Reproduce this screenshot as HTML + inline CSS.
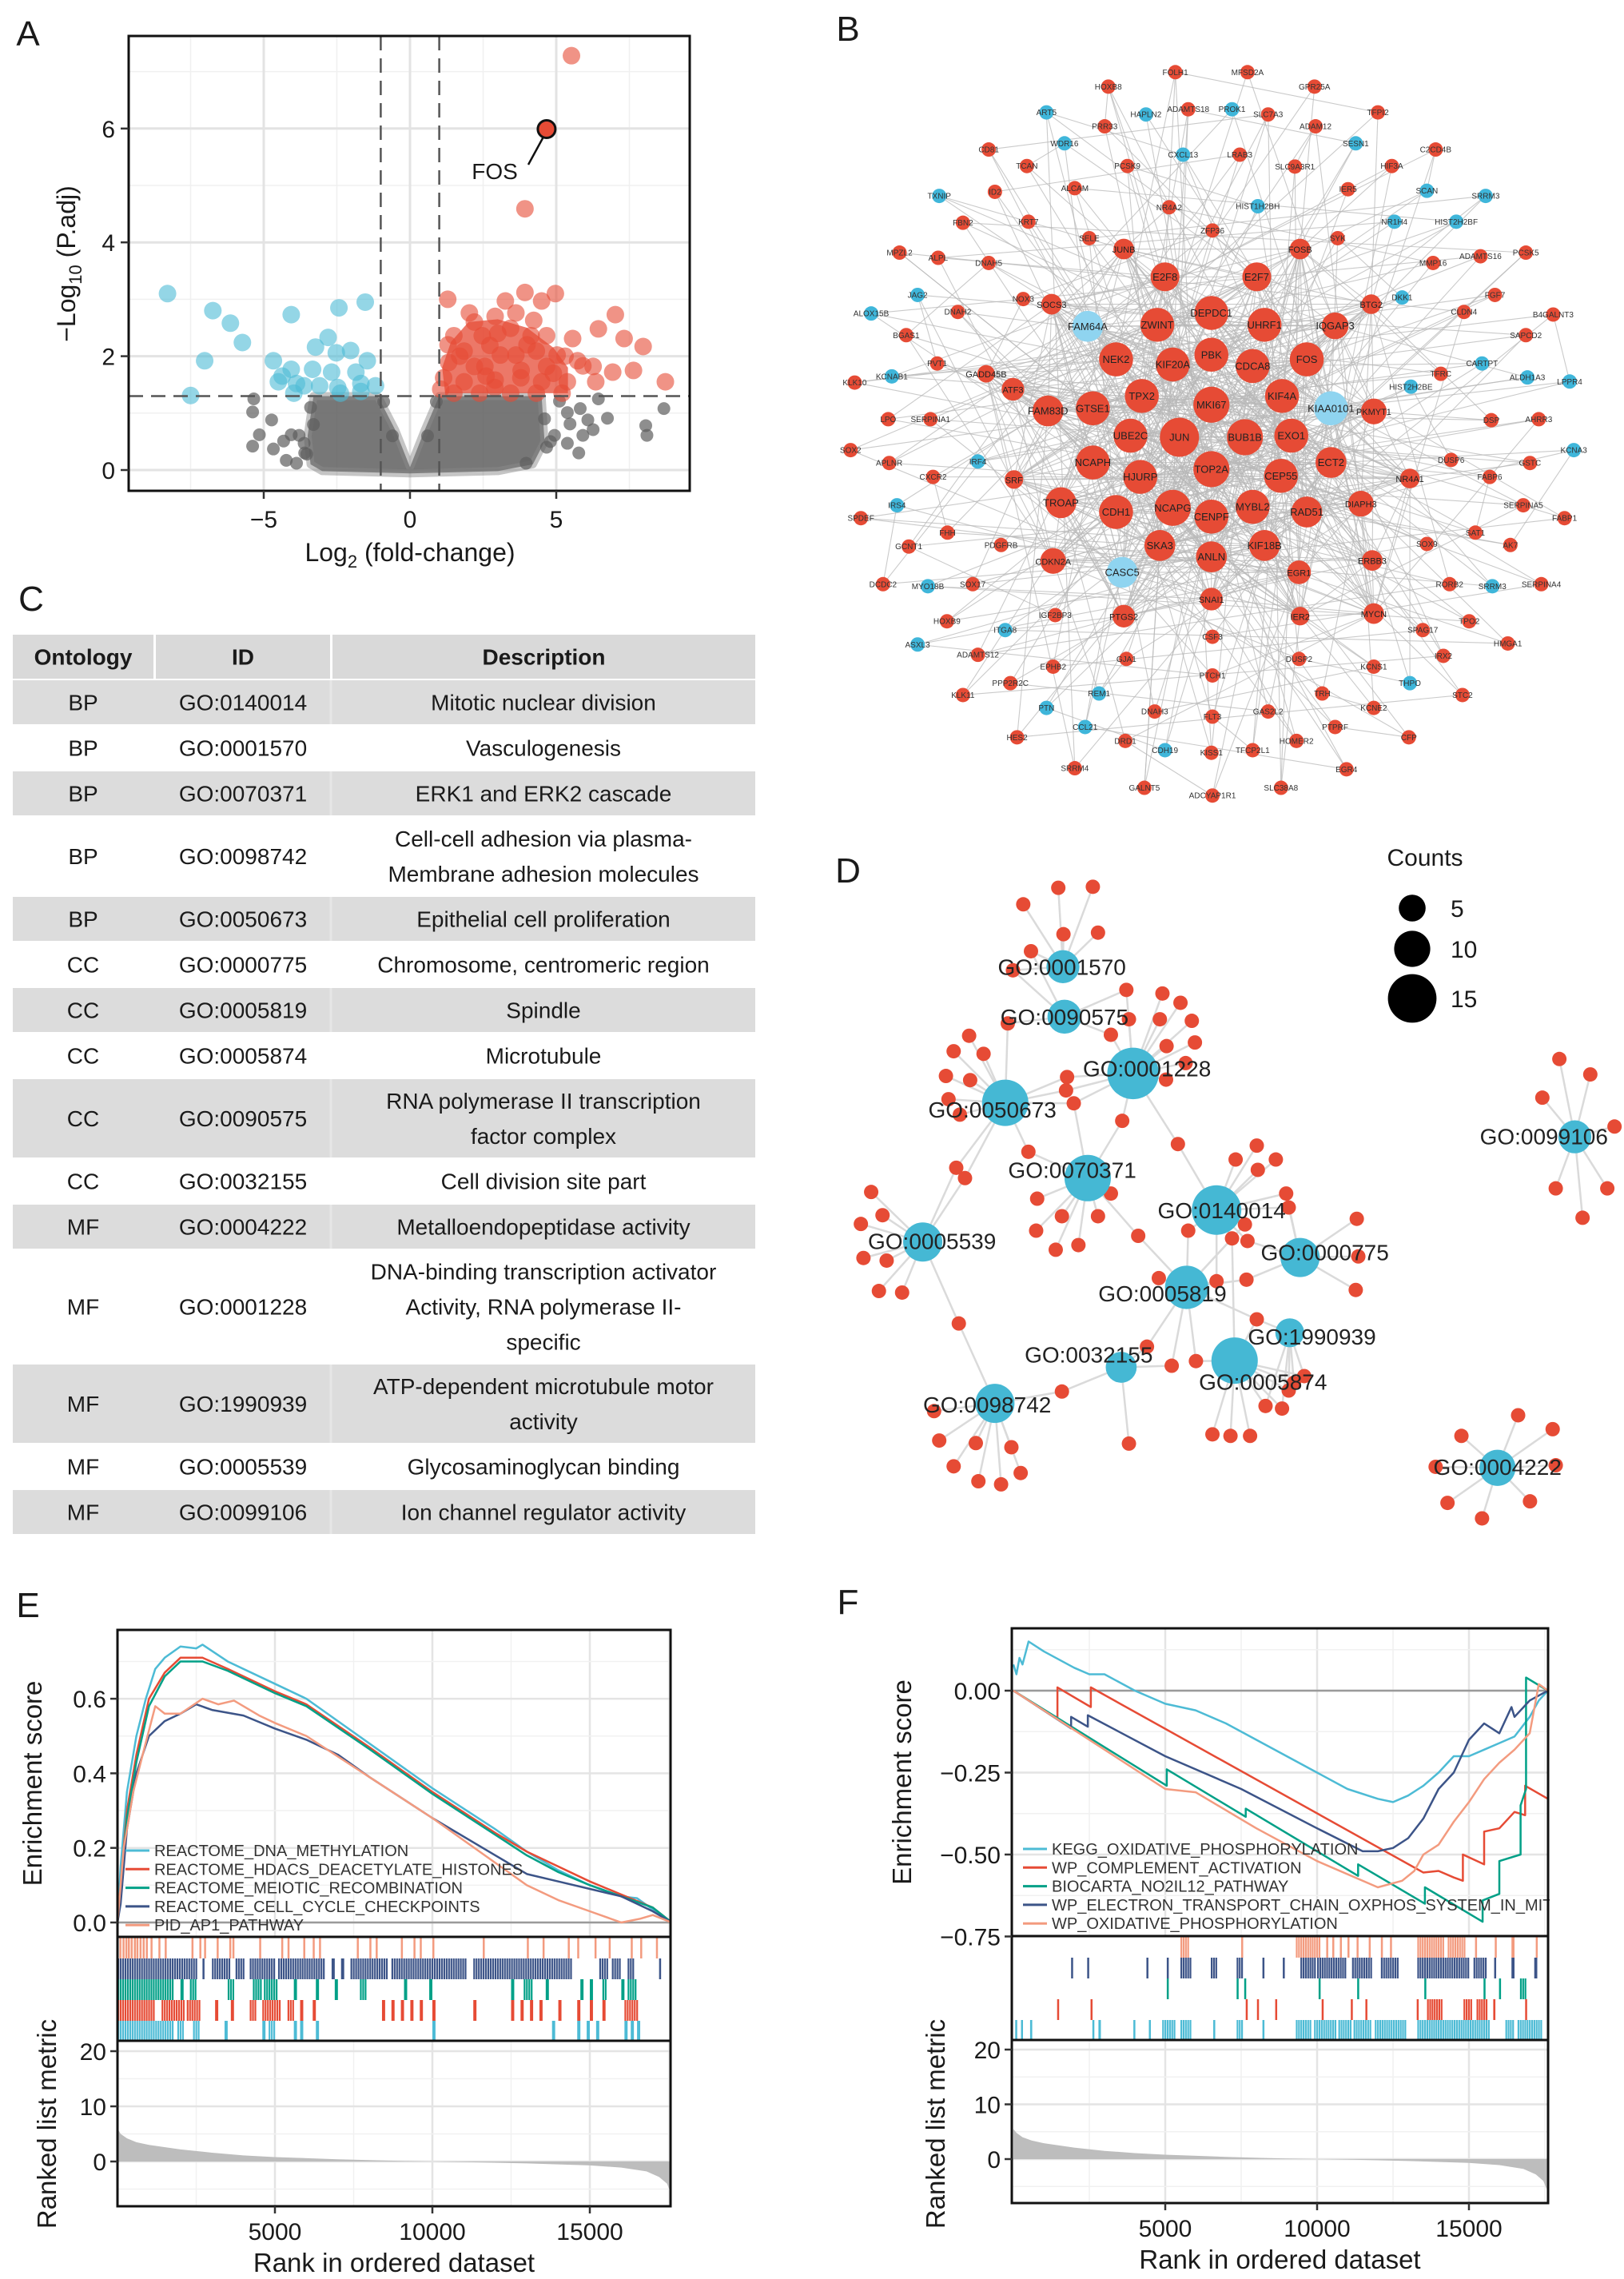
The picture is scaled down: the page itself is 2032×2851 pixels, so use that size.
<!DOCTYPE html>
<html><head><meta charset="utf-8"><style>
body{margin:0;background:#fff}
svg{display:block;font-family:"Liberation Sans",Arial,sans-serif}
</style></head><body>
<svg id="fig" xmlns="http://www.w3.org/2000/svg" width="2032" height="2851" viewBox="0 0 2032 2851">
<rect x="0" y="0" width="2032" height="2851" fill="#fff"/>
<defs>
<clipPath id="clipA"><rect x="161" y="45" width="702" height="569"/></clipPath>
<clipPath id="clipE"><rect x="147" y="2039" width="692" height="384"/></clipPath>
<clipPath id="clipF"><rect x="1266" y="2037" width="671" height="385"/></clipPath>
</defs>
</svg>
<script>
// ---------- Panel A data ----------
const aBlueX=[-8.29,-7.5,-7.02,-6.74,-6.14,-5.73,-4.67,-4.06,-3.23,-2.8,-2.43,-1.53,-2.03,-2.52,-1.46,-4.37,-4.06,-3.88,-3.33,-2.68,-3.97,-3.62,-3.09,-2.47,-1.85,-1.68,-1.18,-2.38,-1.68,-4.5];
const aBlueY=[3.1,1.31,1.92,2.8,2.58,2.24,1.92,2.73,2.16,2.33,2.85,2.95,2.1,2.06,1.92,1.65,1.77,1.52,1.77,1.72,1.35,1.48,1.48,1.45,1.72,1.52,1.48,1.35,1.38,1.55];
const aRedX=[5.52,3.93,1.29,4.97,7.02,6.44,7.32,7.97,8.73,7.64,6.93,6.35,5.91,5.56,3.93,4.5,3.26,2.03,2.91,3.62,4.23,4.67,1.5,2.47,3.44,2.73,1.85,1.32,2.56,3.62,4.32,5.03,5.73,1.15,1.85,2.91,3.79,4.5,5.38,1.5,2.38,3.44,4.32,5.2,2.2,4.67,1.05,3.09,4.14,6.26,2.2,1.7,3.0,4.0,5.3,2.6,3.8,1.3,2.9,4.9];
const aRedY=[7.28,4.59,3.0,3.1,2.73,2.48,2.31,2.17,1.55,1.75,1.72,1.55,1.83,2.31,3.12,2.97,2.97,2.76,2.7,2.76,2.63,2.36,2.36,2.36,2.49,2.19,2.09,1.89,1.82,2.02,2.09,2.02,1.92,1.62,1.55,1.58,1.62,1.55,1.55,1.35,1.35,1.35,1.35,1.35,1.82,1.82,1.42,2.02,2.36,1.82,2.6,2.0,2.4,2.2,2.0,1.65,1.75,2.2,1.45,1.7];
const aGrayX=[-5.34,-5.38,-4.73,-5.15,-5.38,-4.67,-4.32,-4.06,-3.79,-4.23,-3.88,-3.53,-3.62,5.11,5.38,5.82,6.08,6.44,6.75,6.26,5.91,5.47,5.38,5.77,8.06,8.1,8.68,3.97,4.67,4.94,-3.4,-3.3,-3.6,4.6,4.8,-0.9,0.9,-0.6,0.6];
const aGrayY=[1.25,1.02,0.88,0.62,0.42,0.37,0.51,0.62,0.61,0.17,0.12,0.28,0.47,1.21,1.01,1.08,0.88,1.25,0.91,0.71,0.61,0.81,0.47,0.3,0.78,0.61,1.08,0.12,0.4,0.61,1.1,0.8,0.3,0.9,0.5,1.2,1.2,0.6,0.6];
const aGrayCoreX=[-3.3,-1.1,-0.5,0,0.5,1.0,4.5,4.6,4.2,3,0,-3,-3.4,-3.5];
const aGrayCoreY=[1.3,1.3,0.7,0.05,0.7,1.3,1.3,0.5,0.1,-0.02,-0.06,-0.02,0.1,0.6];
const aRedCoreX=[1.2,1.1,1.4,2.0,3.0,4.0,4.9,5.4,5.4];
const aRedCoreY=[1.35,1.8,2.25,2.6,2.65,2.5,2.15,1.8,1.35];
const aXTicks=[-5,0,5];
const aYTicks=[0,2,4,6];
const fosPoint=[4.67,5.99];

// ---------- Panel C data ----------
const tOnt=["BP","BP","BP","BP","BP","CC","CC","CC","CC","CC","MF","MF","MF","MF","MF"];
const tId=["GO:0140014","GO:0001570","GO:0070371","GO:0098742","GO:0050673","GO:0000775","GO:0005819","GO:0005874","GO:0090575","GO:0032155","GO:0004222","GO:0001228","GO:1990939","GO:0005539","GO:0099106"];
const tDesc=[["Mitotic nuclear division"],["Vasculogenesis"],["ERK1 and ERK2 cascade"],["Cell-cell adhesion via plasma-","Membrane adhesion molecules"],["Epithelial cell proliferation"],["Chromosome, centromeric region"],["Spindle"],["Microtubule"],["RNA polymerase II transcription","factor complex"],["Cell division site part"],["Metalloendopeptidase activity"],["DNA-binding transcription activator","Activity, RNA polymerase II-","specific"],["ATP-dependent microtubule motor","activity"],["Glycosaminoglycan binding"],["Ion channel regulator activity"]];

// ---------- Panel B data (network) ----------
const bHub=[["E2F8",660,537,28,0],["E2F7",838,537,28,0],["DEPDC1",750,607,33,0],["ZWINT",645,630,33,0],["UHRF1",853,630,33,0],["IQGAP3",990,632,26,0],["FAM64A",510,633,30,1],["NEK2",565,697,33,0],["KIF20A",675,707,33,0],["PBK",750,688,33,0],["CDCA8",830,710,33,0],["FOS",935,697,33,0],["TPX2",615,768,33,0],["MKI67",750,785,35,0],["KIF4A",887,768,33,0],["GTSE1",520,792,33,0],["FAM83D",433,797,30,0],["ATF3",365,755,22,0],["KIAA0101",982,792,33,1],["PKMYT1",1065,798,25,0],["UBE2C",593,845,33,0],["JUN",688,848,38,0],["BUB1B",815,848,35,0],["EXO1",905,845,33,0],["NCAPH",520,897,33,0],["TOP2A",750,910,35,0],["ECT2",982,897,30,0],["HJURP",612,925,33,0],["CEP55",885,923,33,0],["TROAP",458,975,30,0],["CDH1",565,993,33,0],["NCAPG",675,985,35,0],["CENPF",750,1002,33,0],["MYBL2",830,983,33,0],["RAD51",935,993,30,0],["DIAPH3",1040,977,25,0],["SKA3",650,1058,30,0],["ANLN",750,1080,30,0],["KIF18B",853,1058,30,0],["CDKN2A",443,1088,25,0],["CASC5",577,1110,30,1],["EGR1",920,1110,23,0],["SNAI1",750,1162,22,0],["PTGS2",580,1195,22,0],["SOCS3",440,590,20,0],["BTG2",1060,590,19,0],["FOSB",922,483,20,0],["JUNB",580,483,20,0],["NR4A1",1135,928,19,0],["ERBB3",1062,1087,20,0],["MYCN",1065,1190,20,0],["IER2",922,1195,18,0],["SRF",367,930,18,0],["GADD45B",313,725,17,0]];
const bLeaf=[["FOLH1",680,140,0],["MFSD2A",820,140,0],["HOXB8",550,168,0],["GPR25A",950,168,0],["ART5",430,218,1],["HAPLN2",623,222,1],["ADAMTS18",705,212,0],["PROK1",790,212,1],["SLC7A3",860,222,0],["TFPI2",1073,218,0],["ADAM12",952,245,0],["PRR33",543,245,0],["WDR16",465,278,1],["CXCL13",695,300,1],["LRAB3",805,300,0],["SESN1",1030,278,1],["C2CD4B",1185,290,0],["CD81",318,290,0],["PCSK9",587,322,0],["SLC9A3R1",912,323,0],["HIF3A",1100,322,0],["TCAN",392,322,0],["TXNIP",222,380,1],["ID2",330,372,0],["ALCAM",485,365,0],["SCAN",1168,370,1],["SRRM3",1282,380,1],["HIST1H2BH",840,400,1],["NR4A2",668,402,0],["IER5",1015,367,0],["FBN2",268,432,0],["KRT7",395,430,0],["NR1H4",1105,430,1],["HIST2H2BF",1225,430,1],["ZFP36",752,447,0],["SELE",513,462,0],["SYK",995,462,0],["MMP16",1180,510,0],["ADAMTS16",1272,497,0],["PCSK5",1360,490,0],["MPZL2",145,490,0],["ALPL",220,500,0],["DNAH5",318,510,0],["NOX3",385,580,0],["JAG2",180,572,1],["DKK1",1120,577,1],["FGF7",1300,572,0],["ALOX15B",90,608,1],["DNAH2",258,605,0],["CLDN4",1240,605,0],["B4GALNT3",1413,610,0],["BGAS1",158,650,0],["SAPCD2",1360,650,0],["PVT1",218,705,0],["KCNAB1",130,730,1],["KLK10",58,742,0],["CARTPT",1275,705,1],["TFRC",1195,725,0],["ALDH1A3",1363,732,1],["LPPR4",1445,740,1],["HIST2H2BE",1137,750,1],["LPO",123,813,0],["SERPINA1",205,813,0],["DSP",1293,815,0],["AHRR3",1385,813,0],["SOX2",50,873,0],["APLNR",125,898,0],["IRF4",297,895,1],["CXCR2",210,925,0],["DUSP6",1215,892,0],["FABP6",1290,925,0],["GSTC",1368,898,0],["KCNA3",1453,873,1],["SPDEF",70,1005,0],["IRS4",140,980,1],["SERPINA5",1355,980,0],["FABP1",1435,1005,0],["FHH",238,1033,0],["PDGFRB",342,1057,0],["SAT1",1262,1033,0],["SOX9",1168,1055,0],["AK7",1330,1057,0],["GCNT1",163,1060,0],["DCDC2",113,1133,0],["MYO18B",200,1137,1],["SOX17",287,1133,0],["RORB2",1212,1133,0],["SRRM3",1295,1137,1],["SERPINA4",1390,1133,0],["HOXB9",237,1205,0],["ITGA8",350,1222,1],["IGF2BP3",447,1193,0],["SPAG17",1160,1222,0],["TPO2",1250,1205,0],["ASXL3",180,1250,1],["ADAMTS12",297,1270,0],["GJA1",585,1278,0],["CSF3",752,1235,0],["DUSP2",920,1278,0],["HMGA1",1325,1248,0],["IRX2",1200,1272,0],["EPHB2",443,1293,0],["KCNS1",1065,1293,0],["PTCH1",752,1310,0],["PPP2R2C",360,1325,0],["REM1",532,1345,1],["TRH",965,1345,0],["THPO",1135,1325,1],["STC2",1237,1348,0],["KLK11",268,1348,0],["PTN",430,1373,1],["DNAH3",640,1380,0],["FLT3",752,1390,0],["GAS2L2",860,1380,0],["PTPRF",990,1410,0],["KCNE2",1065,1373,0],["CCL21",505,1410,1],["HES2",373,1430,0],["DRD1",583,1437,0],["CDH19",660,1455,1],["KISS1",750,1460,0],["TFCP2L1",830,1455,0],["HOMER2",915,1437,0],["CFP",1133,1430,0],["SRRM4",485,1490,0],["EGR4",1012,1492,0],["GALNT5",620,1528,0],["ADCYAP1R1",752,1543,0],["SLC38A8",885,1528,0]];

// ---------- Panel D data ----------
const dGo=[["GO:0001570",462,278,32,460,278],["GO:0090575",465,375,33,465,375],["GO:0001228",598,485,50,625,475],["GO:0050673",350,542,45,325,555],["GO:0070371",510,688,45,480,672],["GO:0140014",760,750,48,770,750],["GO:0000775",922,842,38,970,832],["GO:0005539",190,812,38,208,810],["GO:0005819",702,900,42,655,912],["GO:1990939",902,988,28,945,995],["GO:0032155",575,1055,30,512,1030],["GO:0005874",795,1042,45,850,1083],["GO:0098742",330,1125,38,315,1127],["GO:0099106",1455,608,32,1395,607],["GO:0004222",1305,1250,35,1305,1248]];
const dGene=[[385,157,[0]],[453,125,[0]],[520,123,[0]],[463,215,[0]],[530,212,[0]],[400,248,[0,1]],[365,285,[0,1]],
[585,323,[1,2]],[355,388,[1,3]],[555,410,[1,2]],[590,380,[2]],
[655,330,[2]],[690,348,[2]],[650,380,[2]],[712,383,[2]],[663,432,[2]],[718,425,[2]],[700,465,[2]],[662,497,[2]],[470,492,[2,3]],[468,518,[2,3]],[483,543,[2,3,4]],[577,577,[2,4]],[685,622,[2,5]],
[280,412,[3]],[250,442,[3]],[308,447,[3]],[235,490,[3]],[282,498,[3]],[240,535,[3]],[262,565,[3]],[395,637,[3,4]],[255,668,[3,7]],[272,688,[3,7]],
[412,728,[4]],[460,762,[4]],[530,762,[4]],[410,790,[4]],[448,827,[4]],[492,818,[4]],[555,718,[4]],[608,800,[4,8]],
[90,715,[7]],[112,760,[7]],[70,777,[7]],[75,843,[7]],[120,848,[7]],[105,907,[7]],[150,910,[7]],[260,970,[7,12]],
[797,652,[5]],[838,625,[5]],[875,652,[5]],[840,672,[5]],[895,718,[5,6]],[900,745,[5,6]],[815,778,[5,8]],[790,805,[5,8,11]],[820,810,[5,6]],[705,790,[5,8]],
[1032,767,[6]],[1030,905,[6]],[1035,840,[6]],
[648,882,[8]],[760,888,[8,5]],[818,885,[8,6]],[838,962,[8,9,11]],[720,1043,[8,11]],[673,1052,[8,10]],
[930,1072,[9,11]],[900,1100,[9,11]],
[752,1185,[11]],[787,1188,[11]],[825,1188,[11]],[855,1130,[11,9]],[887,1135,[11,9]],[910,1085,[11,9]],
[590,1203,[10]],[460,1102,[10,12]],[625,1015,[10,8]],
[212,1140,[12]],[222,1197,[12]],[293,1202,[12]],[362,1210,[12]],[250,1247,[12]],[380,1260,[12]],[298,1276,[12]],[342,1282,[12]],
[1425,457,[13]],[1485,487,[13]],[1392,532,[13]],[1532,588,[13]],[1418,708,[13]],[1518,708,[13]],[1470,765,[13]],
[1345,1148,[14]],[1235,1188,[14]],[1412,1175,[14]],[1185,1248,[14]],[1418,1245,[14]],[1208,1318,[14]],[1368,1315,[14]],[1275,1348,[14]]];
const dCountLabels=["5","10","15"];
const dCountValues=[5,10,15];

// ---------- Panel E data ----------
const eNames=["REACTOME_DNA_METHYLATION","REACTOME_HDACS_DEACETYLATE_HISTONES","REACTOME_MEIOTIC_RECOMBINATION","REACTOME_CELL_CYCLE_CHECKPOINTS","PID_AP1_PATHWAY"];
const eDnaX=[0,100,300,600,900,1200,1500,2000,2500,2700,3500,5000,6000,8000,10000,12000,13000,14000,15000,16000,16500,17000,17600];
const eDnaY=[0,0.15,0.35,0.5,0.6,0.68,0.71,0.74,0.735,0.745,0.7,0.64,0.6,0.48,0.36,0.25,0.19,0.14,0.1,0.07,0.065,0.035,0];
const eHdacX=[0,300,600,1000,1500,2000,2700,3500,5000,6000,8000,10000,12000,13000,14000,15000,16000,17000,17600];
const eHdacY=[0,0.3,0.45,0.6,0.67,0.71,0.71,0.68,0.62,0.585,0.47,0.35,0.24,0.19,0.15,0.11,0.075,0.04,0];
const eMeiX=[0,300,600,1000,1500,2000,2700,3500,5000,6000,8000,10000,12000,13000,14000,15000,16000,17000,17600];
const eMeiY=[0,0.28,0.43,0.58,0.66,0.7,0.7,0.675,0.615,0.58,0.465,0.345,0.235,0.18,0.135,0.1,0.07,0.04,0];
const eCcX=[0,100,300,600,1000,1500,2000,2500,3000,4000,5000,6000,7000,8000,10000,12000,13000,14000,15000,16000,17000,17600];
const eCcY=[0,0.05,0.25,0.4,0.5,0.54,0.56,0.585,0.57,0.555,0.52,0.49,0.45,0.39,0.28,0.18,0.13,0.11,0.09,0.07,0.03,0];
const eApX=[0,200,500,800,1200,1500,2000,2700,3200,3700,4500,5000,6000,8000,10000,12000,13000,14000,15000,16000,16600,17000,17600];
const eApY=[0,0.2,0.35,0.45,0.58,0.56,0.56,0.6,0.585,0.595,0.555,0.535,0.5,0.39,0.28,0.16,0.1,0.06,0.03,0,0.01,0.02,0];
const eHitAp=[[60,120],[160,200],[250,290],[330,370],[420,460],[520,560],[600,640],[700,740],[800,840],[900,940],[1050,1090],[1300,1340],[1500,1540],[2350,2390],[2600,2640],[2750,2790],[3150,3190],[3550,3590],[3650,3690],[4500,4540],[5200,5240],[5400,5440],[5900,5940],[6200,6240],[6400,6440],[7600,7640],[8000,8040],[8200,8240],[9000,9040],[9400,9440],[9600,9640],[10000,10040],[11600,11640],[13000,13040],[13500,13540],[14300,14340],[14600,14640],[15150,15190],[15600,15640],[16300,16340],[16600,16640],[17100,17140]];
const eHitCc=[[0,2500],[2700,2760],[3000,3550],[3750,4050],[4200,5000],[5100,6550],[6800,6900],[7100,7200],[7400,8600],[8700,11100],[11300,14400],[15300,15550],[15700,16000],[16200,16400],[17200,17260]];
const eHitMei=[[0,1800],[2000,2100],[2300,2500],[3500,3700],[4300,4600],[4650,5100],[5600,5700],[6300,6400],[6900,7000],[7700,7900],[9100,9200],[9900,10000],[12500,12600],[12900,13200],[13600,13700],[14700,14800],[15000,15100],[15400,15550],[16000,16100],[16200,16500]];
const eHitHdac=[[0,1200],[1400,2100],[2200,2600],[3100,3200],[3600,3700],[4200,4400],[4600,5200],[5400,5600],[5800,5900],[6200,6300],[8400,8500],[8700,8800],[9000,9100],[9300,9400],[9600,9700],[10000,10100],[11300,11400],[12500,12600],[12800,12900],[13100,13200],[13400,13500],[14000,14100],[14600,14700],[15000,15100],[15400,15500],[16100,16500]];
const eHitDna=[[0,1800],[1900,2100],[2400,2600],[3400,3500],[4600,4700],[4800,5000],[5600,5700],[5800,5900],[6300,6400],[10000,10100],[13800,13900],[14600,14700],[14900,15000],[15200,15300],[16100,16200],[16300,16400],[16500,16600]];
const rankPts=[0,100,300,600,1000,2000,3000,4000,5000,7000,9000,11000,13000,15000,16000,16800,17200,17450,17560];
const eMetric=[6,5,4.2,3.5,3,2.2,1.6,1.1,0.8,0.4,0.1,-0.1,-0.35,-0.7,-1.1,-1.8,-2.8,-4,-5.5];
const fMetric=[5.5,4.8,4,3.4,2.9,2.1,1.5,1.1,0.8,0.4,0.1,-0.1,-0.35,-0.7,-1.1,-1.8,-2.8,-4,-5.5];
const xRankTicks=[5000,10000,15000];
const eYTicks=[0,0.2,0.4,0.6];
const metricTicks=[0,10,20];

// ---------- Panel F data ----------
const fNames=["KEGG_OXIDATIVE_PHOSPHORYLATION","WP_COMPLEMENT_ACTIVATION","BIOCARTA_NO2IL12_PATHWAY","WP_ELECTRON_TRANSPORT_CHAIN_OXPHOS_SYSTEM_IN_MITOCHONDRIA","WP_OXIDATIVE_PHOSPHORYLATION"];
const fKeggX=[0,100,200,300,500,1000,2000,2500,3000,4000,5000,6000,7000,8000,9000,10000,11000,12000,12500,13000,13500,14000,14500,15000,15500,16000,16500,17000,17300,17600];
const fKeggY=[0.08,0.05,0.1,0.08,0.15,0.12,0.07,0.05,0.05,0,-0.04,-0.06,-0.1,-0.15,-0.2,-0.25,-0.3,-0.33,-0.34,-0.32,-0.29,-0.25,-0.2,-0.2,-0.18,-0.16,-0.14,-0.08,-0.03,0];
const fCompX=[0,1450,1450,2550,2550,13500,14000,14500,14800,14800,15500,15500,16000,16500,16850,16850,17600];
const fCompY=[0,-0.085,0.01,-0.05,0.01,-0.555,-0.55,-0.57,-0.58,-0.5,-0.53,-0.43,-0.42,-0.37,-0.38,-0.29,-0.33];
const fBioX=[0,5050,5050,7650,7650,11350,11350,13550,13550,15450,15450,16000,16000,16700,16700,16880,16880,17600];
const fBioY=[0,-0.29,-0.24,-0.385,-0.36,-0.565,-0.53,-0.65,-0.6,-0.705,-0.64,-0.62,-0.52,-0.5,-0.35,-0.3,0.04,0];
const fEtcX=[0,1900,1900,2450,2450,5000,7500,10000,11500,12000,12500,13000,13500,14000,14500,15000,15500,16000,16400,16500,17000,17600];
const fEtcY=[0,-0.115,-0.08,-0.11,-0.075,-0.2,-0.3,-0.42,-0.49,-0.49,-0.48,-0.45,-0.39,-0.3,-0.25,-0.15,-0.1,-0.13,-0.05,-0.08,-0.03,0];
const fOxX=[0,5000,6000,8000,10000,12000,12800,13200,13500,14000,14500,15000,15500,16000,16500,17000,17300,17600];
const fOxY=[0,-0.3,-0.31,-0.42,-0.52,-0.6,-0.58,-0.55,-0.5,-0.47,-0.4,-0.34,-0.27,-0.22,-0.18,-0.13,0.02,0];
const fHitOx=[[5500,5800],[7500,7560],[9300,10100],[10300,10350],[10500,10550],[10750,10800],[11000,11050],[11300,11350],[11700,11750],[12100,12150],[12400,12450],[13300,14200],[14300,14850],[15200,15250],[15850,15900],[16400,16500],[17200,17260]];
const fHitEtc=[[1900,1960],[2430,2480],[4380,4430],[5050,5100],[5500,5850],[6500,6700],[7350,7550],[8200,8250],[8870,8920],[9450,9920],[10000,10930],[11150,11800],[12100,12650],[13300,15000],[15150,15600],[15830,15880],[16400,16500],[17150,17250]];
const fHitBio=[[5050,5100],[7350,7400],[7600,7660],[10050,10110],[11320,11380],[13530,13590],[15480,15540],[15990,16050],[16680,16880]];
const fHitComp=[[1440,1490],[2540,2590],[7650,7700],[8020,8070],[8620,8670],[10150,10200],[11110,11160],[11590,11640],[13280,13330],[13620,14080],[14820,15100],[15250,15600],[15800,15870],[16850,16900]];
const fHitKegg=[[60,120],[250,300],[550,620],[2600,2650],[2800,2880],[3950,4000],[4460,4510],[4900,5350],[5500,5850],[6580,6640],[7350,7550],[8200,8250],[9300,9800],[9900,10600],[10700,11100],[11200,11800],[11900,12900],[13300,15700],[16200,16500],[16600,17400]];
const fYTicks=[0,-0.25,-0.5,-0.75];
const fYTickLabels=["0.00","\u22120.25","\u22120.50","\u22120.75"];

// ---------- helpers ----------
const NS="http://www.w3.org/2000/svg";
const svg=document.getElementById('fig');
function mk(tag,attrs,parent){const e=document.createElementNS(NS,tag);for(const k in attrs)e.setAttribute(k,attrs[k]);(parent||svg).appendChild(e);return e;}
function grp(name){const g=mk('g',{});return g;}
function txt(s,x,y,size,parent,opts){const t=mk('text',Object.assign({x:x,y:y,'font-size':size,fill:'#1a1a1a'},opts||{}),parent);t.textContent=s;return t;}
const NPG={red:"#E64B35",cyan:"#4DBBD5",green:"#00A087",navy:"#3C5488",salmon:"#F39B7F"};

// ---------- panel letters ----------
const letters=[["A",35,41],["B",1061,35],["C",39,748],["D",1061,1088],["E",35,2007],["F",1061,2003]];
for(const L of letters){
 const t=txt(L[0],L[1],L[2]+16,44,svg,{'text-anchor':'middle'});
 
 
}

// ---------- Panel A ----------
(function(){
 const g=grp('volcano-plot');
 const xA=v=>513+36.6*v, yA=v=>588-71.2*v;
 for(const v of [-7.5,-2.5,2.5,7.5]) mk('line',{x1:xA(v),x2:xA(v),y1:45,y2:614,stroke:'#f0f0f0','stroke-width':1.5},g);
 for(const v of [1,3,5,7]) mk('line',{x1:161,x2:863,y1:yA(v),y2:yA(v),stroke:'#f0f0f0','stroke-width':1.5},g);
 for(const v of aXTicks) mk('line',{x1:xA(v),x2:xA(v),y1:45,y2:614,stroke:'#e3e3e3','stroke-width':3},g);
 for(const v of aYTicks) mk('line',{x1:161,x2:863,y1:yA(v),y2:yA(v),stroke:'#e3e3e3','stroke-width':3},g);
 const pg=mk('g',{'clip-path':'url(#clipA)'},g);
 const core=mk('polygon',{points:aGrayCoreX.map((x,i)=>xA(x)+','+yA(aGrayCoreY[i])).join(' '),fill:'#606060',opacity:0.85,stroke:'#777','stroke-width':10,'stroke-linejoin':'round','stroke-opacity':0.5},pg);
 
 
 aGrayX.forEach((x,i)=>{const c=mk('circle',{cx:xA(x),cy:yA(aGrayY[i]),r:8,fill:'#5e5e5e','fill-opacity':0.7},pg);
  
  });
 const rc=mk('polygon',{points:aRedCoreX.map((x,i)=>xA(x)+','+yA(aRedCoreY[i])).join(' '),fill:NPG.red,opacity:0.75},pg);
 
 
 aRedX.forEach((x,i)=>{const c=mk('circle',{cx:xA(x),cy:yA(aRedY[i]),r:11,fill:NPG.red,'fill-opacity':0.6},pg);
  
  });
 aBlueX.forEach((x,i)=>{const c=mk('circle',{cx:xA(x),cy:yA(aBlueY[i]),r:11,fill:NPG.cyan,'fill-opacity':0.6},pg);
  
  });
 for(const v of [-1,1]){const l=mk('line',{x1:xA(v),x2:xA(v),y1:45,y2:614,stroke:'#555','stroke-width':2.5,'stroke-dasharray':'18 10'},g);
  
  }
 const hl=mk('line',{x1:161,x2:863,y1:yA(1.3),y2:yA(1.3),stroke:'#555','stroke-width':2.5,'stroke-dasharray':'18 10'},g);
 
 
 mk('line',{x1:661,y1:206,x2:xA(fosPoint[0])-3,y2:yA(fosPoint[1])+8,stroke:'#111','stroke-width':2.5},g);
 const fos=mk('circle',{cx:xA(fosPoint[0]),cy:yA(fosPoint[1]),r:11,fill:NPG.red,stroke:'#111','stroke-width':3},g);
 
 
 const fl=txt('FOS',619,224,28,g,{'text-anchor':'middle'});
 
 
 const box=mk('rect',{x:161,y:45,width:702,height:569,fill:'none',stroke:'#111','stroke-width':3},g);
 
 
 for(const v of aXTicks){mk('line',{x1:xA(v),x2:xA(v),y1:614,y2:624,stroke:'#333','stroke-width':2.5},g);
  const t=txt(v<0?'\u2212'+Math.abs(v):String(v),xA(v),660,30,g,{'text-anchor':'middle'});
  
  }
 for(const v of aYTicks){mk('line',{x1:151,x2:161,y1:yA(v),y2:yA(v),stroke:'#333','stroke-width':2.5},g);
  const t=txt(String(v),144,yA(v)+11,30,g,{'text-anchor':'end'});
  
  }
 const xt=mk('text',{x:513,y:702,'font-size':32,'text-anchor':'middle',fill:'#1a1a1a'},g);
 xt.innerHTML='Log<tspan font-size="22" dy="8">2</tspan><tspan dy="-8"> (fold-change)</tspan>';
 
 
 const yt=mk('text',{x:0,y:0,'font-size':32,'text-anchor':'middle',fill:'#1a1a1a',transform:'translate(94,330) rotate(-90)'},g);
 yt.innerHTML='\u2212Log<tspan font-size="22" dy="8">10</tspan><tspan dy="-8"> (P.adj)</tspan>';
 
 
})();

// ---------- Panel C table ----------
(function(){
 const g=grp('go-table');
 const cols=[[16,192],[195,413],[416,945]];
 const hTop=794,hH=55;
 const head=["Ontology","ID","Description"];
 cols.forEach((c,i)=>{mk('rect',{x:c[0],y:hTop,width:c[1]-c[0],height:hH,fill:'#d9d9d9'},g);
  const t=txt(head[i],(c[0]+c[1])/2,hTop+hH/2+10,28,g,{'text-anchor':'middle','font-weight':'bold'});
  
  });
 let y=hTop+hH+2;
 tOnt.forEach((o,i)=>{
  const n=tDesc[i].length, h=n===1?57:(n===2?100:143);
  if(i%2===0){const r=mk('rect',{x:16,y:y,width:929,height:h-2,fill:'#dcdcdc'},g);
   mk('line',{x1:414,x2:414,y1:y,y2:y+h-2,stroke:'#e6e6e6','stroke-width':3},g);
   
   }
  const cy=y+(h-2)/2+10;
  const a=txt(o,104,cy,28,g,{'text-anchor':'middle'});
  
  
  const b=txt(tId[i],304,cy,28,g,{'text-anchor':'middle'});
  
  
  tDesc[i].forEach((line,k)=>{const t=txt(line,680,cy+(k-(n-1)/2)*44,28,g,{'text-anchor':'middle'});
   
   });
  y+=h;
 });
})();

// ---------- Panel B network ----------
(function(){
 const g=grp('ppi-network');
 const bx=z=>1032+0.645*z, by=z=>0.645*z;
 const eg=mk('g',{stroke:'#b8b8b8','stroke-width':1.1,'stroke-opacity':0.75},g);
 const nH=bHub.length,nL=bLeaf.length;
 for(let i=0;i<nH;i++)for(let j=i+1;j<nH;j++){ if((i*7+j*3)%4===0||(j-i)<3){mk('line',{x1:bx(bHub[i][1]),y1:by(bHub[i][2]),x2:bx(bHub[j][1]),y2:by(bHub[j][2])},eg);}}
 for(let k=0;k<nL;k++){
  const a=bHub[(k*5)%nH],b=bHub[(k*13+7)%nH];
  mk('line',{x1:bx(bLeaf[k][1]),y1:by(bLeaf[k][2]),x2:bx(a[1]),y2:by(a[2])},eg);
  mk('line',{x1:bx(bLeaf[k][1]),y1:by(bLeaf[k][2]),x2:bx(b[1]),y2:by(b[2])},eg);
  if(k%2===0){const c=bLeaf[(k+9)%nL];mk('line',{x1:bx(bLeaf[k][1]),y1:by(bLeaf[k][2]),x2:bx(c[1]),y2:by(c[2])},eg);}
 }
 
 
 for(const n of bLeaf){
  const c=mk('circle',{cx:bx(n[1]),cy:by(n[2]),r:9,fill:n[3]?'#3fb6da':NPG.red},g);
  
  
  const t=txt(n[0],bx(n[1]),by(n[2])+3.5,10,g,{'text-anchor':'middle',fill:'#333'});
  
  
 }
 for(const n of bHub){
  const c=mk('circle',{cx:bx(n[1]),cy:by(n[2]),r:n[3]*0.645,fill:n[4]?'#8fd4f0':NPG.red},g);
  
  
  const t=txt(n[0],bx(n[1]),by(n[2])+4.5,n[3]>25?13:11,g,{'text-anchor':'middle',fill:'#222'});
  
  
 }
})();

// ---------- Panel D ----------
(function(){
 const g=grp('go-network');
 const dx=z=>1032+0.645*z, dy=z=>1030+0.645*z;
 const eg=mk('g',{stroke:'#dadada','stroke-width':2.5},g);
 
 
 for(const n of dGene) for(const p of n[2]) mk('line',{x1:dx(n[0]),y1:dy(n[1]),x2:dx(dGo[p][1]),y2:dy(dGo[p][2])},eg);
 for(const n of dGene){const c=mk('circle',{cx:dx(n[0]),cy:dy(n[1]),r:9,fill:NPG.red},g);
  
  }
 for(const n of dGo){const c=mk('circle',{cx:dx(n[1]),cy:dy(n[2]),r:n[3]*0.645,fill:'#45b8d4'},g);
  
  }
 for(const n of dGo){const t=txt(n[0],dx(n[4]),dy(n[5])+10,28,g,{'text-anchor':'middle',fill:'#222'});
  
  }
 const lt=txt('Counts',1783,1083,30,g,{'text-anchor':'middle'});
 
 
 const ly=[1136,1187,1249];
 dCountValues.forEach((v,i)=>{const c=mk('circle',{cx:1767,cy:ly[i],r:7+2.4*v*0.65+ (i===0?2:0),fill:'#000'},g);
  
  
  const t=txt(dCountLabels[i],1815,ly[i]+11,30,g,{});
  
  });
})();

// ---------- GSEA panels ----------
function gsea(cfg){
 const g=grp(cfg.name);
 const X=r=>cfg.x0+r*cfg.kx, Y=v=>cfg.y0-v*cfg.ky, M=v=>cfg.m0-v*cfg.km;
 const L=cfg.left,R=cfg.right;
 for(let r=2500;r<17600;r+=2500){const maj=r%5000===0;
  mk('line',{x1:X(r),x2:X(r),y1:cfg.top,y2:cfg.mid,stroke:maj?'#e4e4e4':'#f1f1f1','stroke-width':maj?2.5:1.5},g);
  mk('line',{x1:X(r),x2:X(r),y1:cfg.hitBot,y2:cfg.bot,stroke:maj?'#e4e4e4':'#f1f1f1','stroke-width':maj?2.5:1.5},g);}
 cfg.yMinor.forEach(v=>mk('line',{x1:L,x2:R,y1:Y(v),y2:Y(v),stroke:'#f1f1f1','stroke-width':1.5},g));
 cfg.yTicks.forEach(v=>mk('line',{x1:L,x2:R,y1:Y(v),y2:Y(v),stroke:'#e4e4e4','stroke-width':2.5},g));
 [-5,5,15].forEach(v=>mk('line',{x1:L,x2:R,y1:M(v),y2:M(v),stroke:'#f1f1f1','stroke-width':1.5},g));
 metricTicks.forEach(v=>mk('line',{x1:L,x2:R,y1:M(v),y2:M(v),stroke:'#e4e4e4','stroke-width':2.5},g));
 mk('line',{x1:L,x2:R,y1:Y(0),y2:Y(0),stroke:'#9a9a9a','stroke-width':2.5},g);
 const cg=mk('g',{'clip-path':'url(#'+cfg.clip+')'},g);
 cfg.series.forEach(s=>{const p=mk('polyline',{points:s.x.map((r,i)=>X(r)+','+Y(s.y[i])).join(' '),fill:'none',stroke:s.color,'stroke-width':2.5,'stroke-linejoin':'round'},cg);
  
  });
 cfg.series.forEach((s,i)=>{const ly=cfg.legY+i*23.3;
  mk('line',{x1:cfg.legX-36,x2:cfg.legX-6,y1:ly-7,y2:ly-7,stroke:s.color,'stroke-width':3},g);
  const t=txt(s.name,cfg.legX,ly,20,g,{fill:'#333'});
  
  });
 const rh=(cfg.hitBot-cfg.mid)/5;
 cfg.series.slice().reverse().forEach((s,i)=>{const hg=mk('g',{fill:s.color},g);
  
  
  s.hits.forEach(h=>{
   if(h[1]-h[0]<=120){mk('rect',{x:X(h[0]),y:cfg.mid+i*rh+1,width:Math.max(2.5,X(h[1])-X(h[0])),height:rh},hg);}
   else{for(let r=h[0];r<h[1];r+=75) mk('rect',{x:X(r),y:cfg.mid+i*rh+1,width:2.2,height:rh},hg);}
  });});
 const pts=[X(0)+','+M(0)].concat(rankPts.map((r,i)=>X(r)+','+M(cfg.metric[i]))).concat([X(rankPts[rankPts.length-1])+','+M(0)]);
 const area=mk('polygon',{points:pts.join(' '),fill:'#bdbdbd'},g);
 
 
 [[cfg.top,cfg.mid],[cfg.mid,cfg.hitBot],[cfg.hitBot,cfg.bot]].forEach((b,i)=>{const r=mk('rect',{x:L,y:b[0],width:R-L,height:b[1]-b[0],fill:'none',stroke:'#111','stroke-width':3},g);
  
  });
 cfg.yTicks.forEach((v,i)=>{mk('line',{x1:L-9,x2:L,y1:Y(v),y2:Y(v),stroke:'#333','stroke-width':2.5},g);
  const t=txt(cfg.yLabels[i],L-14,Y(v)+11,30,g,{'text-anchor':'end'});
  
  });
 metricTicks.forEach(v=>{mk('line',{x1:L-9,x2:L,y1:M(v),y2:M(v),stroke:'#333','stroke-width':2.5},g);
  const t=txt(String(v),L-14,M(v)+11,30,g,{'text-anchor':'end'});
  
  });
 xRankTicks.forEach(v=>{mk('line',{x1:X(v),x2:X(v),y1:cfg.bot,y2:cfg.bot+9,stroke:'#333','stroke-width':2.5},g);
  const t=txt(String(v),X(v),cfg.bot+42,30,g,{'text-anchor':'middle'});
  
  });
 const xt=txt('Rank in ordered dataset',(L+R)/2,cfg.bot+82,33,g,{'text-anchor':'middle'});
 
 
 const y1=txt('Enrichment score',0,0,33,g,{'text-anchor':'middle',transform:'translate('+cfg.esTitleX+','+((cfg.top+cfg.mid)/2)+') rotate(-90)'});
 
 
 const y2=txt('Ranked list metric',0,0,33,g,{'text-anchor':'middle',transform:'translate('+cfg.mTitleX+',2657) rotate(-90)'});
 
 
}
gsea({name:'gsea-plot-e',x0:147,kx:0.0394,y0:2405,ky:466.5,m0:2704,km:6.9,left:147,right:839,top:2039,mid:2423,hitBot:2553,bot:2760,clip:'clipE',
 yTicks:eYTicks,yLabels:["0.0","0.2","0.4","0.6"],yMinor:[0.1,0.3,0.5,0.7],legX:193,legY:2322,esTitleX:52,mTitleX:70,metric:eMetric,
 series:[{key:'dna-methylation',name:eNames[0],color:NPG.cyan,x:eDnaX,y:eDnaY,hits:eHitDna},
  {key:'hdacs',name:eNames[1],color:NPG.red,x:eHdacX,y:eHdacY,hits:eHitHdac},
  {key:'meiotic',name:eNames[2],color:NPG.green,x:eMeiX,y:eMeiY,hits:eHitMei},
  {key:'cell-cycle',name:eNames[3],color:NPG.navy,x:eCcX,y:eCcY,hits:eHitCc},
  {key:'ap1',name:eNames[4],color:NPG.salmon,x:eApX,y:eApY,hits:eHitAp}]});
gsea({name:'gsea-plot-f',x0:1268,kx:0.038,y0:2115,ky:410,m0:2701,km:6.85,left:1266,right:1937,top:2037,mid:2422,hitBot:2552,bot:2756,clip:'clipF',
 yTicks:fYTicks,yLabels:fYTickLabels,yMinor:[0.125,-0.125,-0.375,-0.625],legX:1316,legY:2320,esTitleX:1140,mTitleX:1182,metric:fMetric,
 series:[{key:'kegg-oxphos',name:fNames[0],color:NPG.cyan,x:fKeggX,y:fKeggY,hits:fHitKegg},
  {key:'complement',name:fNames[1],color:NPG.red,x:fCompX,y:fCompY,hits:fHitComp},
  {key:'no2il12',name:fNames[2],color:NPG.green,x:fBioX,y:fBioY,hits:fHitBio},
  {key:'etc-oxphos',name:fNames[3],color:NPG.navy,x:fEtcX,y:fEtcY,hits:fHitEtc},
  {key:'wp-oxphos',name:fNames[4],color:NPG.salmon,x:fOxX,y:fOxY,hits:fHitOx}]});
(function(){const r=mk('rect',{x:1939,y:2290,width:93,height:130,fill:'#fff'});
 
 })();
</script>
</body></html>
